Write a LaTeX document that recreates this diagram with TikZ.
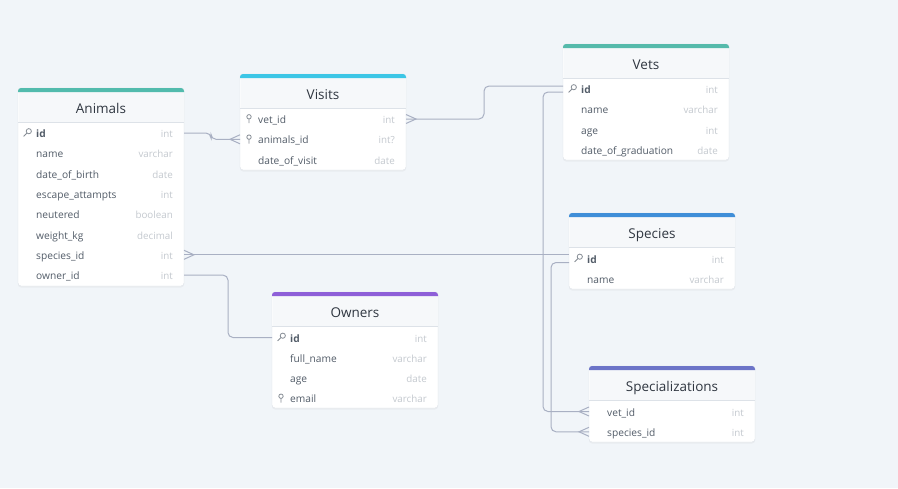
\documentclass[tikz,border=0pt]{standalone}
\usepackage{fontspec}
\setmainfont{Open Sans}
\usetikzlibrary{calc,shadows}

\definecolor{bgcol}{HTML}{F1F5F9}
\definecolor{bordercol}{HTML}{DDE2E8}
\definecolor{headcol}{HTML}{F6F8FA}
\definecolor{titlecol}{HTML}{2F3640}
\definecolor{fieldcol}{HTML}{525C68}
\definecolor{typecol}{HTML}{C4C9CF}
\definecolor{linkcol}{HTML}{A9B0C3}
\definecolor{animalscol}{HTML}{52BBAD}
\definecolor{visitscol}{HTML}{3CC6E6}
\definecolor{vetscol}{HTML}{55BAAB}
\definecolor{speciescol}{HTML}{3F8ED8}
\definecolor{ownerscol}{HTML}{8E5FD8}
\definecolor{specialcol}{HTML}{6C74C8}

\tikzset{
	tbl/.style={draw=bordercol,fill=white,rounded corners=3pt,minimum width=166pt,anchor=north west,inner sep=0,outer sep=0,drop shadow={opacity=0.07,shadow xshift=0pt,shadow yshift=-1.5pt}},
	title/.style={font=\fontsize{13.5}{15}\selectfont,text=titlecol,inner sep=0,text height=13pt,text depth=2pt},
	field/.style={anchor=west,font=\fontsize{10.2}{12}\selectfont,text=fieldcol,inner sep=0,text height=11pt,text depth=2pt},
	pk/.style={field,font=\fontsize{10.2}{12}\selectfont\bfseries},
	ftype/.style={anchor=east,font=\fontsize{9.8}{12}\selectfont,text=typecol,inner sep=0,text height=11pt,text depth=2pt},
	link/.style={draw=linkcol,line width=1pt,rounded corners=5pt},
	keyicon/.pic={\draw[fieldcol!70,line width=0.8pt] (1.8,-1.8) circle (2.6pt) (0,0) -- (-3.4,3.4);},
	pinicon/.pic={\draw[fieldcol!70,line width=0.8pt] (0,-2.2) circle (2.2pt) (0,0) -- (0,4.2);},
	crowfoot/.pic={\draw[linkcol,line width=1pt] (0,-4.5) -- (-10,0) -- (0,4.5);}
}

\begin{document}
\begin{tikzpicture}[x=1pt,y=-1pt]
	\fill[bgcol] (0,0) rectangle (898,488);
	\useasboundingbox (0,0) rectangle (898,488);

	% Animals
	\node[tbl,minimum height=198pt] (animals) at (18,88) {};
	\fill[headcol] ($(animals.north west)+(0.5,4)$) rectangle ($(animals.north east)+(-0.5,34)$);
	\fill[animalscol] ($(animals.north west)+(0,4)$) [rounded corners=3pt] -- (animals.north west) -- (animals.north east) [sharp corners] -- ($(animals.north east)+(0,4)$) -- cycle;
	\draw[bordercol] ($(animals.north west)+(0,34)$) -- ($(animals.north east)+(0,34)$);
	\node[title] (animals-title) at ($(animals.north)+(0,20)$) {Animals};
	\node[pk] (animals-id) at (36,133) {id};
	\node[field] (animals-name) at (36,153.3) {name};
	\node[field] (animals-dob) at (36,173.6) {date\_of\_birth};
	\node[field] (animals-escape) at (36,193.9) {escape\_attampts};
	\node[field] (animals-neutered) at (36,214.2) {neutered};
	\node[field] (animals-weight) at (36,234.5) {weight\_kg};
	\node[field] (animals-speciesid) at (36,254.8) {species\_id};
	\node[field] (animals-ownerid) at (36,275.1) {owner\_id};
	\node[ftype] (animals-id-t) at (173,133) {int};
	\node[ftype] (animals-name-t) at (173,153.3) {varchar};
	\node[ftype] (animals-dob-t) at (173,173.6) {date};
	\node[ftype] (animals-escape-t) at (173,193.9) {int};
	\node[ftype] (animals-neutered-t) at (173,214.2) {boolean};
	\node[ftype] (animals-weight-t) at (173,234.5) {decimal};
	\node[ftype] (animals-speciesid-t) at (173,254.8) {int};
	\node[ftype] (animals-ownerid-t) at (173,275.1) {int};
	\pic at ($(animals-id.west)+(-9,0)$) {keyicon};

	% Visits
	\node[tbl,minimum height=96pt] (visits) at (240,74) {};
	\fill[headcol] ($(visits.north west)+(0.5,4)$) rectangle ($(visits.north east)+(-0.5,34)$);
	\fill[visitscol] ($(visits.north west)+(0,4)$) [rounded corners=3pt] -- (visits.north west) -- (visits.north east) [sharp corners] -- ($(visits.north east)+(0,4)$) -- cycle;
	\draw[bordercol] ($(visits.north west)+(0,34)$) -- ($(visits.north east)+(0,34)$);
	\node[title] (visits-title) at ($(visits.north)+(0,20)$) {Visits};
	\node[field] (visits-vetid) at (258,119) {vet\_id};
	\node[field] (visits-animalsid) at (258,139.3) {animals\_id};
	\node[field] (visits-date) at (258,159.6) {date\_of\_visit};
	\node[ftype] (visits-vetid-t) at (395,119) {int};
	\node[ftype] (visits-animalsid-t) at (395,139.3) {int?};
	\node[ftype] (visits-date-t) at (395,159.6) {date};
	\pic at ($(visits-vetid.west)+(-9,0)$) {pinicon};
	\pic at ($(visits-animalsid.west)+(-9,0)$) {pinicon};

	% Vets
	\node[tbl,minimum height=116pt] (vets) at (563,44) {};
	\fill[headcol] ($(vets.north west)+(0.5,4)$) rectangle ($(vets.north east)+(-0.5,34)$);
	\fill[vetscol] ($(vets.north west)+(0,4)$) [rounded corners=3pt] -- (vets.north west) -- (vets.north east) [sharp corners] -- ($(vets.north east)+(0,4)$) -- cycle;
	\draw[bordercol] ($(vets.north west)+(0,34)$) -- ($(vets.north east)+(0,34)$);
	\node[title] (vets-title) at ($(vets.north)+(0,20)$) {Vets};
	\node[pk] (vets-id) at (581,89) {id};
	\node[field] (vets-name) at (581,109.3) {name};
	\node[field] (vets-age) at (581,129.6) {age};
	\node[field] (vets-grad) at (581,149.9) {date\_of\_graduation};
	\node[ftype] (vets-id-t) at (718,89) {int};
	\node[ftype] (vets-name-t) at (718,109.3) {varchar};
	\node[ftype] (vets-age-t) at (718,129.6) {int};
	\node[ftype] (vets-grad-t) at (718,149.9) {date};
	\pic at ($(vets-id.west)+(-9,0)$) {keyicon};

	% Species
	\node[tbl,minimum height=76pt] (species) at (569,213) {};
	\fill[headcol] ($(species.north west)+(0.5,4)$) rectangle ($(species.north east)+(-0.5,34)$);
	\fill[speciescol] ($(species.north west)+(0,4)$) [rounded corners=3pt] -- (species.north west) -- (species.north east) [sharp corners] -- ($(species.north east)+(0,4)$) -- cycle;
	\draw[bordercol] ($(species.north west)+(0,34)$) -- ($(species.north east)+(0,34)$);
	\node[title] (species-title) at ($(species.north)+(0,20)$) {Species};
	\node[pk] (species-id) at (587,258.5) {id};
	\node[field] (species-name) at (587,278.8) {name};
	\node[ftype] (species-id-t) at (724,258.5) {int};
	\node[ftype] (species-name-t) at (724,278.8) {varchar};
	\pic at ($(species-id.west)+(-9,0)$) {keyicon};

	% Owners
	\node[tbl,minimum height=116pt] (owners) at (272,292) {};
	\fill[headcol] ($(owners.north west)+(0.5,4)$) rectangle ($(owners.north east)+(-0.5,34)$);
	\fill[ownerscol] ($(owners.north west)+(0,4)$) [rounded corners=3pt] -- (owners.north west) -- (owners.north east) [sharp corners] -- ($(owners.north east)+(0,4)$) -- cycle;
	\draw[bordercol] ($(owners.north west)+(0,34)$) -- ($(owners.north east)+(0,34)$);
	\node[title] (owners-title) at ($(owners.north)+(0,20)$) {Owners};
	\node[pk] (owners-id) at (290,337.5) {id};
	\node[field] (owners-fullname) at (290,357.8) {full\_name};
	\node[field] (owners-age) at (290,378.1) {age};
	\node[field] (owners-email) at (290,398.4) {email};
	\node[ftype] (owners-id-t) at (427,337.5) {int};
	\node[ftype] (owners-fullname-t) at (427,357.8) {varchar};
	\node[ftype] (owners-age-t) at (427,378.1) {date};
	\node[ftype] (owners-email-t) at (427,398.4) {varchar};
	\pic at ($(owners-id.west)+(-9,0)$) {keyicon};
	\pic at ($(owners-email.west)+(-9,0)$) {pinicon};

	% Specializations
	\node[tbl,minimum height=76pt] (special) at (589,366) {};
	\fill[headcol] ($(special.north west)+(0.5,4)$) rectangle ($(special.north east)+(-0.5,34)$);
	\fill[specialcol] ($(special.north west)+(0,4)$) [rounded corners=3pt] -- (special.north west) -- (special.north east) [sharp corners] -- ($(special.north east)+(0,4)$) -- cycle;
	\draw[bordercol] ($(special.north west)+(0,34)$) -- ($(special.north east)+(0,34)$);
	\node[title] (special-title) at ($(special.north)+(0,20)$) {Specializations};
	\node[field] (special-vetid) at (607,411.5) {vet\_id};
	\node[field] (special-speciesid) at (607,431.8) {species\_id};
	\node[ftype] (special-vetid-t) at (744,411.5) {int};
	\node[ftype] (special-speciesid-t) at (744,431.8) {int};

	% relations
	\draw[link] (animals.east |- animals-id) -- ++(27,0) |- (visits.west |- visits-animalsid);
	\pic at (visits.west |- visits-animalsid) {crowfoot};
	\draw[link] (visits.east |- visits-vetid) -- ++(78,0) |- ($(vets.west |- vets-id)+(0,-3)$);
	\pic[xscale=-1] at (visits.east |- visits-vetid) {crowfoot};
	\draw[link] ($(vets.west |- vets-id)+(0,3)$) -- ++(-20,0) |- (special.west |- special-vetid);
	\pic at (special.west |- special-vetid) {crowfoot};
	\draw[link] ($(species.west |- species-id)+(0,4)$) -- ++(-18,0) |- (special.west |- special-speciesid);
	\pic at (special.west |- special-speciesid) {crowfoot};
	\draw[link] (animals.east |- animals-speciesid) -- (species.west |- animals-speciesid);
	\pic[xscale=-1] at (animals.east |- animals-speciesid) {crowfoot};
	\draw[link] (animals.east |- animals-ownerid) -- ++(44,0) |- (owners.west |- owners-id);
\end{tikzpicture}
\end{document}
